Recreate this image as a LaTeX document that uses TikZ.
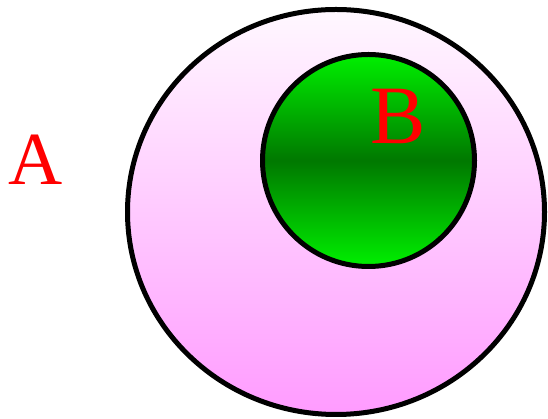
\documentclass[tikz,border=0pt]{standalone}
\usepackage{fontspec}
\setmainfont{Liberation Serif}
\begin{document}
\begin{tikzpicture}[x=1pt,y=1pt,
  outline/.style={draw=black,line width=5pt},
  lbl/.style={text=red,inner sep=0pt,anchor=center}]
\useasboundingbox (0,0) rectangle (548,419);
\path[outline,top color={rgb,255:red,255;green,248;blue,255},bottom color={rgb,255:red,255;green,155;blue,255}]
  (336,207) ellipse [x radius=208.5,y radius=202.5];
\path[outline,top color={rgb,255:red,0;green,240;blue,0},bottom color={rgb,255:red,0;green,240;blue,0},middle color={rgb,255:red,0;green,120;blue,0}]
  (368.5,258.5) circle [radius=106];
\node[lbl,font=\fontsize{75}{75}\selectfont] (a) at (36,259) {A};
\node[lbl,font=\fontsize{83}{83}\selectfont] (b) at (398,302.5) {B};
\end{tikzpicture}
\end{document}
